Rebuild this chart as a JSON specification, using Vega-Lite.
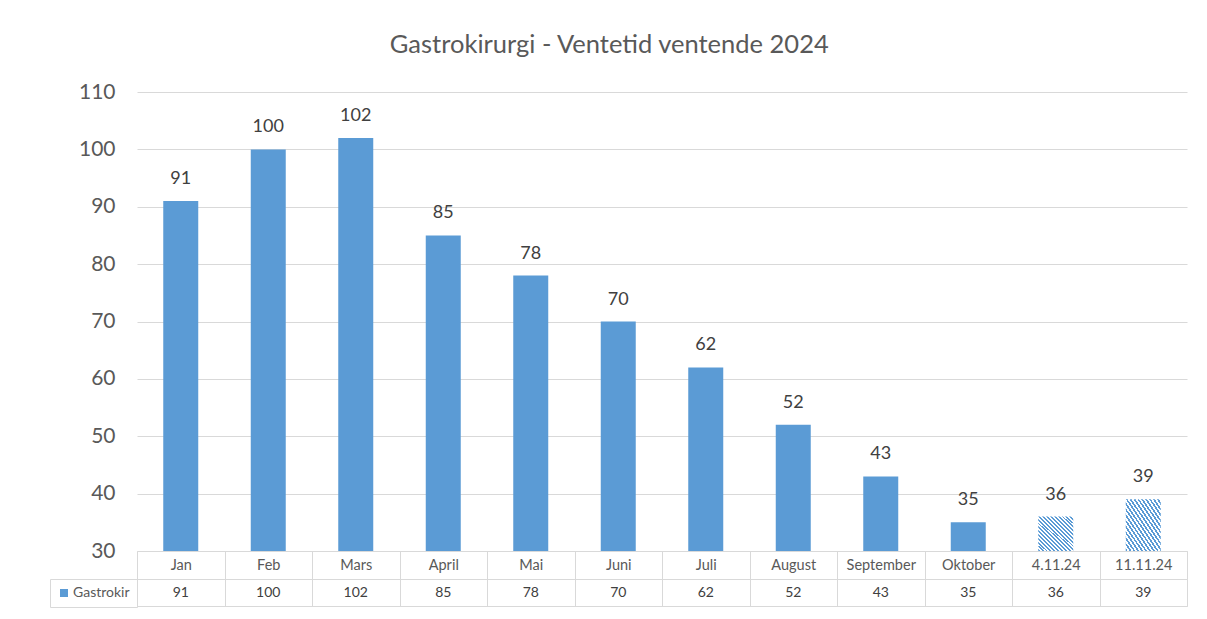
{
  "$schema": "https://vega.github.io/schema/vega-lite/v6.json",
  "autosize": {"type": "pad"},
  "padding": {"left": 49, "top": 32, "right": 19, "bottom": 14},
  "bounds": "flush",
  "spacing": 28,
  "title": {
    "text": "Gastrokirurgi - Ventetid ventende 2024",
    "fontSize": 25.5,
    "font": "Lato",
    "fontWeight": "normal",
    "color": "#595959",
    "anchor": "middle",
    "baseline": "alphabetic",
    "dx": -9,
    "offset": 3
  },
  "config": {
    "font": "Lato",
    "view": {"stroke": null},
    "axis": {"labelFont": "Lato", "titleFont": "Lato"},
    "legend": {"labelFont": "Lato"}
  },
  "data": {
    "values": [
      {"kat": "Jan", "verdi": 91, "type": "maaned", "serie": "Gastrokir"},
      {"kat": "Feb", "verdi": 100, "type": "maaned", "serie": "Gastrokir"},
      {"kat": "Mars", "verdi": 102, "type": "maaned", "serie": "Gastrokir"},
      {"kat": "April", "verdi": 85, "type": "maaned", "serie": "Gastrokir"},
      {"kat": "Mai", "verdi": 78, "type": "maaned", "serie": "Gastrokir"},
      {"kat": "Juni", "verdi": 70, "type": "maaned", "serie": "Gastrokir"},
      {"kat": "Juli", "verdi": 62, "type": "maaned", "serie": "Gastrokir"},
      {"kat": "August", "verdi": 52, "type": "maaned", "serie": "Gastrokir"},
      {"kat": "September", "verdi": 43, "type": "maaned", "serie": "Gastrokir"},
      {"kat": "Oktober", "verdi": 35, "type": "maaned", "serie": "Gastrokir"},
      {"kat": "4.11.24", "verdi": 36, "type": "dato", "serie": "Gastrokir"},
      {"kat": "11.11.24", "verdi": 39, "type": "dato", "serie": "Gastrokir"}
    ]
  },
  "resolve": {"scale": {"color": "independent"}, "legend": {"color": "independent"}},
  "vconcat": [
    {
      "width": 1050,
      "height": 459,
      "encoding": {
        "x": {
          "field": "kat",
          "type": "nominal",
          "sort": null,
          "scale": {"paddingInner": 0, "paddingOuter": 0},
          "axis": {
            "title": null,
            "labelAngle": 0,
            "tickBand": "extent",
            "tickSize": 28,
            "tickColor": "#d9d9d9",
            "domainColor": "#d9d9d9",
            "labelPadding": -21,
            "labelFontSize": 14.5,
            "labelColor": "#595959",
            "labelBaseline": "top"
          }
        },
        "y": {
          "field": "verdi",
          "type": "quantitative",
          "scale": {"domain": [30, 110], "zero": false, "nice": false},
          "axis": {
            "title": null,
            "values": [30, 40, 50, 60, 70, 80, 90, 100, 110],
            "domain": false,
            "ticks": false,
            "labelPadding": 22,
            "labelFontSize": 21,
            "labelColor": "#595959",
            "gridColor": "#d9d9d9",
            "gridWidth": 1
          }
        }
      },
      "layer": [
        {
          "mark": {"type": "bar", "width": {"band": 0.4}},
          "encoding": {
            "y2": {"datum": 30},
            "color": {
              "condition": {
                "test": "datum.type === 'dato'",
                "value": {
                  "gradient": "linear",
                  "x1": 0, "y1": 1, "x2": 1, "y2": 0,
                  "stops": [
                    {"offset": 0, "color": "#5b9bd5"}, {"offset": 0.0278, "color": "#5b9bd5"}, {"offset": 0.0278, "color": "#ffffff"}, {"offset": 0.0556, "color": "#ffffff"},
                    {"offset": 0.0556, "color": "#5b9bd5"}, {"offset": 0.0833, "color": "#5b9bd5"}, {"offset": 0.0833, "color": "#ffffff"}, {"offset": 0.1111, "color": "#ffffff"},
                    {"offset": 0.1111, "color": "#5b9bd5"}, {"offset": 0.1389, "color": "#5b9bd5"}, {"offset": 0.1389, "color": "#ffffff"}, {"offset": 0.1667, "color": "#ffffff"},
                    {"offset": 0.1667, "color": "#5b9bd5"}, {"offset": 0.1944, "color": "#5b9bd5"}, {"offset": 0.1944, "color": "#ffffff"}, {"offset": 0.2222, "color": "#ffffff"},
                    {"offset": 0.2222, "color": "#5b9bd5"}, {"offset": 0.25, "color": "#5b9bd5"}, {"offset": 0.25, "color": "#ffffff"}, {"offset": 0.2778, "color": "#ffffff"},
                    {"offset": 0.2778, "color": "#5b9bd5"}, {"offset": 0.3056, "color": "#5b9bd5"}, {"offset": 0.3056, "color": "#ffffff"}, {"offset": 0.3333, "color": "#ffffff"},
                    {"offset": 0.3333, "color": "#5b9bd5"}, {"offset": 0.3611, "color": "#5b9bd5"}, {"offset": 0.3611, "color": "#ffffff"}, {"offset": 0.3889, "color": "#ffffff"},
                    {"offset": 0.3889, "color": "#5b9bd5"}, {"offset": 0.4167, "color": "#5b9bd5"}, {"offset": 0.4167, "color": "#ffffff"}, {"offset": 0.4444, "color": "#ffffff"},
                    {"offset": 0.4444, "color": "#5b9bd5"}, {"offset": 0.4722, "color": "#5b9bd5"}, {"offset": 0.4722, "color": "#ffffff"}, {"offset": 0.5, "color": "#ffffff"},
                    {"offset": 0.5, "color": "#5b9bd5"}, {"offset": 0.5278, "color": "#5b9bd5"}, {"offset": 0.5278, "color": "#ffffff"}, {"offset": 0.5556, "color": "#ffffff"},
                    {"offset": 0.5556, "color": "#5b9bd5"}, {"offset": 0.5833, "color": "#5b9bd5"}, {"offset": 0.5833, "color": "#ffffff"}, {"offset": 0.6111, "color": "#ffffff"},
                    {"offset": 0.6111, "color": "#5b9bd5"}, {"offset": 0.6389, "color": "#5b9bd5"}, {"offset": 0.6389, "color": "#ffffff"}, {"offset": 0.6667, "color": "#ffffff"},
                    {"offset": 0.6667, "color": "#5b9bd5"}, {"offset": 0.6944, "color": "#5b9bd5"}, {"offset": 0.6944, "color": "#ffffff"}, {"offset": 0.7222, "color": "#ffffff"},
                    {"offset": 0.7222, "color": "#5b9bd5"}, {"offset": 0.75, "color": "#5b9bd5"}, {"offset": 0.75, "color": "#ffffff"}, {"offset": 0.7778, "color": "#ffffff"},
                    {"offset": 0.7778, "color": "#5b9bd5"}, {"offset": 0.8056, "color": "#5b9bd5"}, {"offset": 0.8056, "color": "#ffffff"}, {"offset": 0.8333, "color": "#ffffff"},
                    {"offset": 0.8333, "color": "#5b9bd5"}, {"offset": 0.8611, "color": "#5b9bd5"}, {"offset": 0.8611, "color": "#ffffff"}, {"offset": 0.8889, "color": "#ffffff"},
                    {"offset": 0.8889, "color": "#5b9bd5"}, {"offset": 0.9167, "color": "#5b9bd5"}, {"offset": 0.9167, "color": "#ffffff"}, {"offset": 0.9444, "color": "#ffffff"},
                    {"offset": 0.9444, "color": "#5b9bd5"}, {"offset": 0.9722, "color": "#5b9bd5"}, {"offset": 0.9722, "color": "#ffffff"}, {"offset": 1, "color": "#ffffff"}
                  ]
                }
              },
              "value": "#5b9bd5"
            }
          }
        },
        {
          "mark": {"type": "text", "baseline": "alphabetic", "dy": -17, "fontSize": 18, "color": "#404040"},
          "encoding": {"text": {"field": "verdi", "type": "quantitative"}}
        }
      ]
    },
    {
      "width": 1050,
      "height": 27,
      "view": {"stroke": "#d9d9d9"},
      "encoding": {
        "x": {
          "field": "kat",
          "type": "nominal",
          "sort": null,
          "scale": {"paddingInner": 0, "paddingOuter": 0},
          "axis": {
            "title": null,
            "labels": false,
            "ticks": false,
            "domain": false,
            "grid": true,
            "tickBand": "extent",
            "gridColor": "#d9d9d9"
          }
        }
      },
      "layer": [
        {
          "mark": {"type": "text", "fontSize": 14, "color": "#404040", "baseline": "middle"},
          "encoding": {"text": {"field": "verdi", "type": "quantitative"}}
        },
        {
          "mark": {"type": "point", "shape": "square", "filled": true, "size": 0, "opacity": 1},
          "encoding": {
            "color": {
              "field": "serie",
              "type": "nominal",
              "scale": {"range": ["#5b9bd5"]},
              "legend": {
                "orient": "left",
                "offset": 0,
                "title": null,
                "symbolType": "square",
                "symbolSize": 64,
                "symbolStrokeWidth": 0,
                "labelFontSize": 14,
                "labelColor": "#595959",
                "labelOffset": 2,
                "strokeColor": "#d9d9d9",
                "padding": 7
              }
            }
          }
        }
      ]
    }
  ]
}
